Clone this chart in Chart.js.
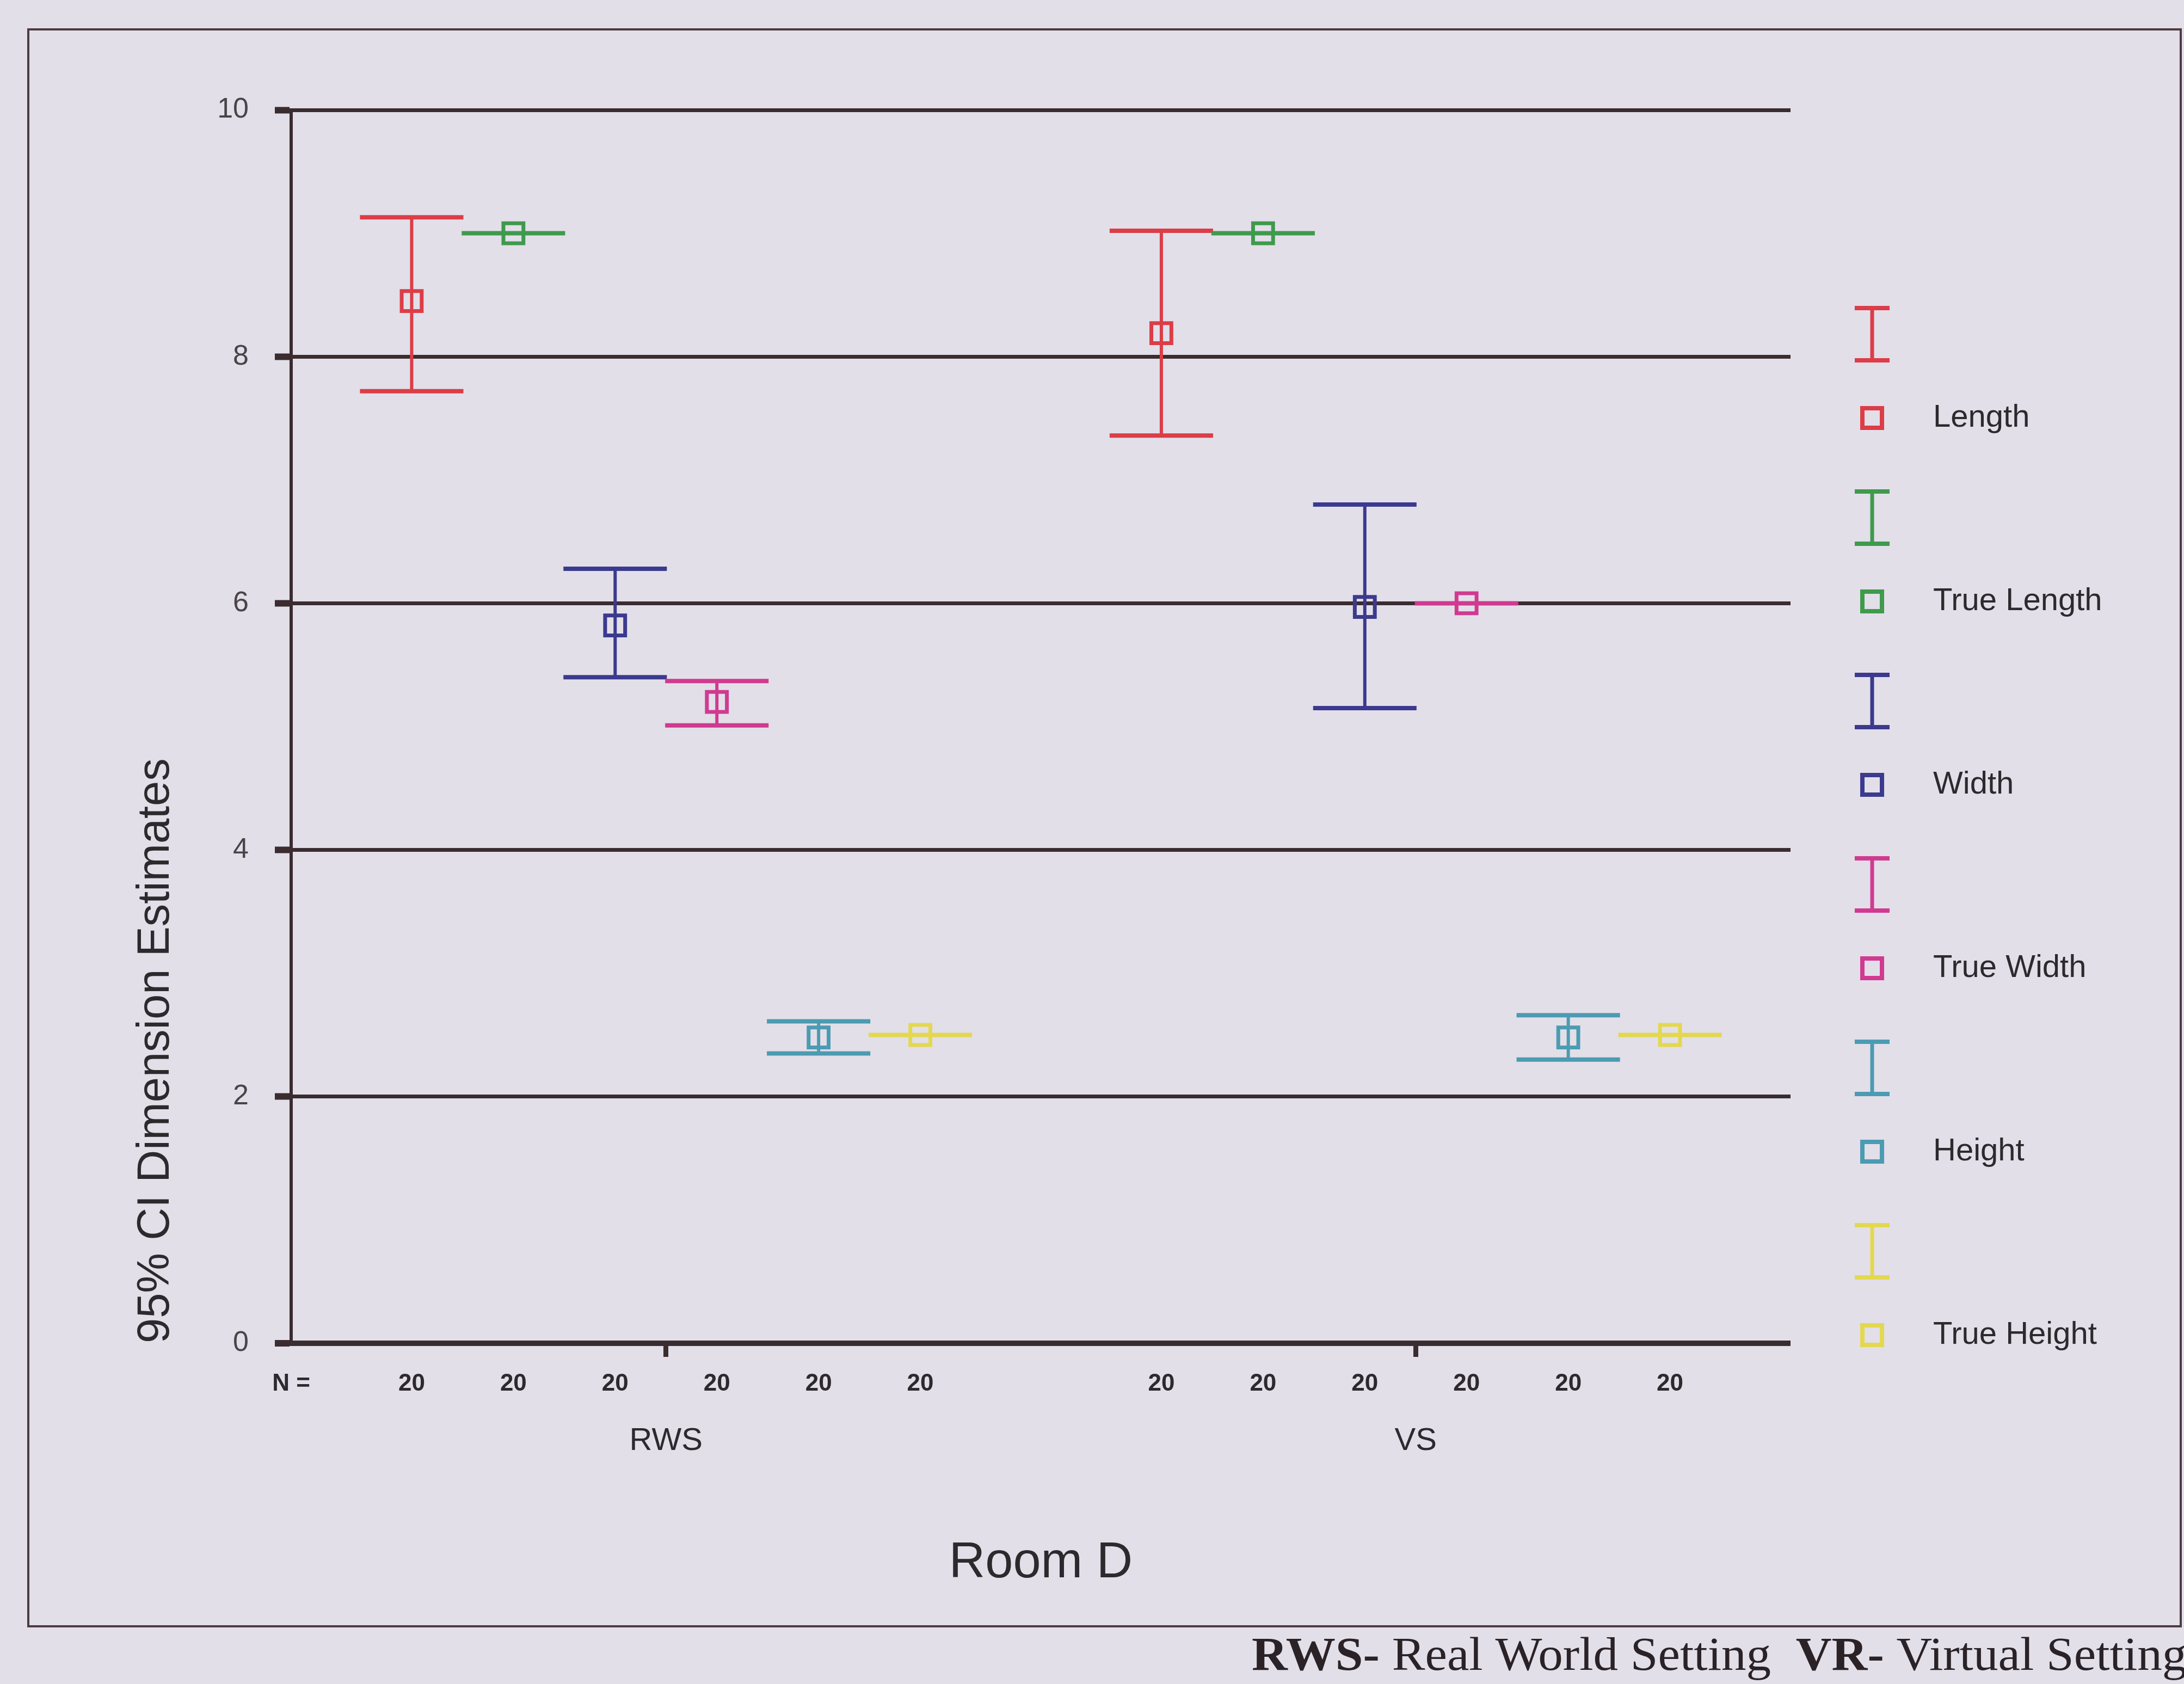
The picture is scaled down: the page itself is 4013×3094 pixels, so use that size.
<!DOCTYPE html>
<html>
<head>
<meta charset="utf-8">
<title>Room D – 95% CI Dimension Estimates</title>
<script src="https://cdn.jsdelivr.net/npm/chart.js@4.4.1/dist/chart.umd.min.js"></script>
<style>
  html, body { margin: 0; padding: 0; background: #e2dfe9; }
  canvas { display: block; }
</style>
</head>
<body>
<canvas id="chart" width="4013" height="3094" style="width:4013px;height:3094px"></canvas>
<script>
// ---- data -------------------------------------------------------------
const categories = ['RWS', 'VS'];
const seriesNames = ['Length', 'True Length', 'Width', 'True Width', 'Height', 'True Height'];

// mean and 95% confidence bounds, one entry per setting (RWS, VS)
const lengthMean = [8.45, 8.19];
const lengthLow = [7.72, 7.36];
const lengthHigh = [9.13, 9.02];

const trueLength = [9.0, 9.0];

const widthMean = [5.82, 5.97];
const widthLow = [5.40, 5.15];
const widthHigh = [6.28, 6.80];

const trueWidthMean = [5.20, 6.00];
const trueWidthLow = [5.01, 6.00];
const trueWidthHigh = [5.37, 6.00];

const heightMean = [2.48, 2.48];
const heightLow = [2.35, 2.30];
const heightHigh = [2.61, 2.66];

const trueHeight = [2.5, 2.5];

// number of cases behind every bar
const casesRWS = [20, 20, 20, 20, 20, 20];
const casesVS = [20, 20, 20, 20, 20, 20];

const yTickValues = [0, 2, 4, 6, 8, 10];

// ---- styling / layout -------------------------------------------------
const seriesColors = ['#dc3d47', '#3f9a4c', '#3b3a8e', '#d13a90', '#4c9bb2', '#e3d84e'];
const ink = '#3a2c2f';
const textInk = '#2e292d';
const paper = '#e2dfe9';
const clusterStep = 0.1357;   // spacing of the six bars inside a setting (x units)
const capHalf = 0.069;        // half width of whisker caps (x units)
const FONT = "'Liberation Sans', Arial, Helvetica, sans-serif";

const seriesStats = [
  { mean: lengthMean, low: lengthLow, high: lengthHigh },
  { mean: trueLength, low: trueLength, high: trueLength },
  { mean: widthMean, low: widthLow, high: widthHigh },
  { mean: trueWidthMean, low: trueWidthLow, high: trueWidthHigh },
  { mean: heightMean, low: heightLow, high: heightHigh },
  { mean: trueHeight, low: trueHeight, high: trueHeight }
];
const casesByGroup = [casesRWS, casesVS];

const xPos = (g, i) => g + 0.5 + (i - (seriesNames.length - 1) / 2) * clusterStep;

const datasets = seriesNames.map((name, i) => ({
  label: name,
  data: categories.map((c, g) => ({
    x: xPos(g, i),
    y: seriesStats[i].mean[g],
    lo: seriesStats[i].low[g],
    hi: seriesStats[i].high[g]
  })),
  borderColor: seriesColors[i],
  backgroundColor: 'rgba(0,0,0,0)',
  pointStyle: 'rect',
  pointRadius: 26,
  pointBorderWidth: 7,
  showLine: false
}));

// x-axis ticks: "N =" at the origin, a count under every bar, plain marks at the setting centres
const nTickValues = [0];
const nTickText = ['N ='];
categories.forEach((c, g) => seriesNames.forEach((s, i) => {
  nTickValues.push(xPos(g, i));
  nTickText.push(String(casesByGroup[g][i]));
}));
const firstCentreTick = nTickValues.length;
categories.forEach((c, g) => { nTickValues.push(g + 0.5); nTickText.push(''); });

// ---- plugins ----------------------------------------------------------
const pagePlugin = {
  id: 'page',
  beforeDraw(chart) {
    const { ctx, width, height } = chart;
    ctx.save();
    ctx.fillStyle = paper;
    ctx.fillRect(0, 0, width, height);
    ctx.restore();
  },
  afterDraw(chart) {
    const { ctx } = chart;
    ctx.save();
    // outer frame
    ctx.strokeStyle = '#4b3c3f';
    ctx.lineWidth = 4;
    ctx.strokeRect(52, 54, 3955, 2934);
    // caption below the frame
    const parts = [['RWS-', true], [' Real World Setting  ', false], ['VR-', true], [' Virtual Setting', false]];
    ctx.translate(2300, 3068);
    ctx.scale(1.06, 1);
    ctx.fillStyle = '#2a2226';
    ctx.textBaseline = 'alphabetic';
    let x = 0;
    parts.forEach(([t, bold]) => {
      ctx.font = (bold ? 'bold ' : '') + "86px 'Liberation Serif', 'Times New Roman', serif";
      ctx.fillText(t, x, 0);
      x += ctx.measureText(t).width;
    });
    ctx.restore();
  }
};

const whiskerPlugin = {
  id: 'ciWhiskers',
  beforeDatasetsDraw(chart) {
    const { ctx } = chart;
    const xs = chart.scales.x, ys = chart.scales.y;
    ctx.save();
    ctx.lineCap = 'butt';
    chart.data.datasets.forEach(ds => {
      ctx.strokeStyle = ds.borderColor;
      ds.data.forEach(p => {
        const px = xs.getPixelForValue(p.x);
        const l = xs.getPixelForValue(p.x - capHalf);
        const r = xs.getPixelForValue(p.x + capHalf);
        const top = ys.getPixelForValue(p.hi);
        const bot = ys.getPixelForValue(p.lo);
        ctx.lineWidth = 6;
        ctx.beginPath();
        ctx.moveTo(px, top);
        ctx.lineTo(px, bot);
        ctx.stroke();
        ctx.lineWidth = 8;
        ctx.beginPath();
        ctx.moveTo(l, top); ctx.lineTo(r, top);
        ctx.moveTo(l, bot); ctx.lineTo(r, bot);
        ctx.stroke();
      });
    });
    ctx.restore();
  }
};

const sideLegendPlugin = {
  id: 'sideLegend',
  afterDraw(chart) {
    const { ctx } = chart;
    const iconX = 3440, textX = 3552, firstY = 768, step = 337, barLift = 154;
    ctx.save();
    chart.data.datasets.forEach((ds, i) => {
      const sy = firstY + i * step;
      const by = sy - barLift;
      ctx.strokeStyle = ds.borderColor;
      ctx.lineWidth = 7;
      ctx.beginPath();
      ctx.moveTo(iconX, by - 48); ctx.lineTo(iconX, by + 48);
      ctx.stroke();
      ctx.lineWidth = 8;
      ctx.beginPath();
      ctx.moveTo(iconX - 32, by - 48); ctx.lineTo(iconX + 32, by - 48);
      ctx.moveTo(iconX - 32, by + 48); ctx.lineTo(iconX + 32, by + 48);
      ctx.stroke();
      ctx.strokeRect(iconX - 18, sy - 18, 36, 36);
      ctx.fillStyle = textInk;
      ctx.font = '58px ' + FONT;
      ctx.textBaseline = 'middle';
      ctx.textAlign = 'left';
      ctx.fillText(ds.label, textX, sy);
    });
    ctx.restore();
  }
};

// ---- chart ------------------------------------------------------------
Chart.defaults.font.family = FONT;
Chart.defaults.color = textInk;

new Chart(document.getElementById('chart'), {
  type: 'scatter',
  data: { datasets },
  plugins: [pagePlugin, whiskerPlugin, sideLegendPlugin],
  options: {
    responsive: false,
    animation: false,
    devicePixelRatio: 1,
    events: [],
    layout: { padding: { left: 200, right: 723, top: 202, bottom: 166 } },
    plugins: { legend: { display: false }, tooltip: { enabled: false } },
    scales: {
      y: {
        type: 'linear',
        min: 0,
        max: 10,
        afterBuildTicks: s => { s.ticks = yTickValues.map(v => ({ value: v })); },
        afterFit: s => { s.width = 335; },
        grid: {
          color: ink,
          lineWidth: c => (c.tick && c.tick.value === 0 ? 10 : 7),
          tickLength: 30,
          tickWidth: 12
        },
        border: { display: true, color: ink, width: 6 },
        ticks: { font: { size: 52 }, color: '#4a4448', padding: 48 },
        title: {
          display: true,
          text: '95% CI Dimension Estimates',
          align: 'start',
          font: { size: 83 },
          color: textInk,
          padding: { top: 37, bottom: 0 }
        }
      },
      x: {
        type: 'linear',
        position: 'bottom',
        weight: 0,
        min: 0,
        max: 2,
        afterBuildTicks: s => { s.ticks = nTickValues.map(v => ({ value: v })); },
        afterFit: s => { s.height = 110; },
        grid: {
          drawOnChartArea: false,
          drawTicks: true,
          tickLength: 25,
          color: c => (c.index >= firstCentreTick ? ink : 'rgba(0,0,0,0)'),
          lineWidth: 9
        },
        border: { display: false },
        ticks: {
          autoSkip: false,
          maxRotation: 0,
          padding: 23,
          font: { size: 44, weight: 'bold' },
          color: textInk,
          callback: (v, i) => nTickText[i]
        }
      },
      xCat: {
        type: 'linear',
        position: 'bottom',
        weight: 1,
        min: 0,
        max: 2,
        afterBuildTicks: s => { s.ticks = categories.map((c, g) => ({ value: g + 0.5 })); },
        afterFit: s => { s.height = 350; },
        grid: { display: false, drawTicks: false },
        border: { display: false },
        ticks: {
          autoSkip: false,
          maxRotation: 0,
          padding: 35,
          font: { size: 58 },
          color: textInk,
          callback: (v, i) => categories[i]
        },
        title: {
          display: true,
          text: 'Room D',
          font: { size: 92 },
          color: textInk,
          padding: { top: 0, bottom: 0 }
        }
      }
    }
  }
});
</script>
</body>
</html>
